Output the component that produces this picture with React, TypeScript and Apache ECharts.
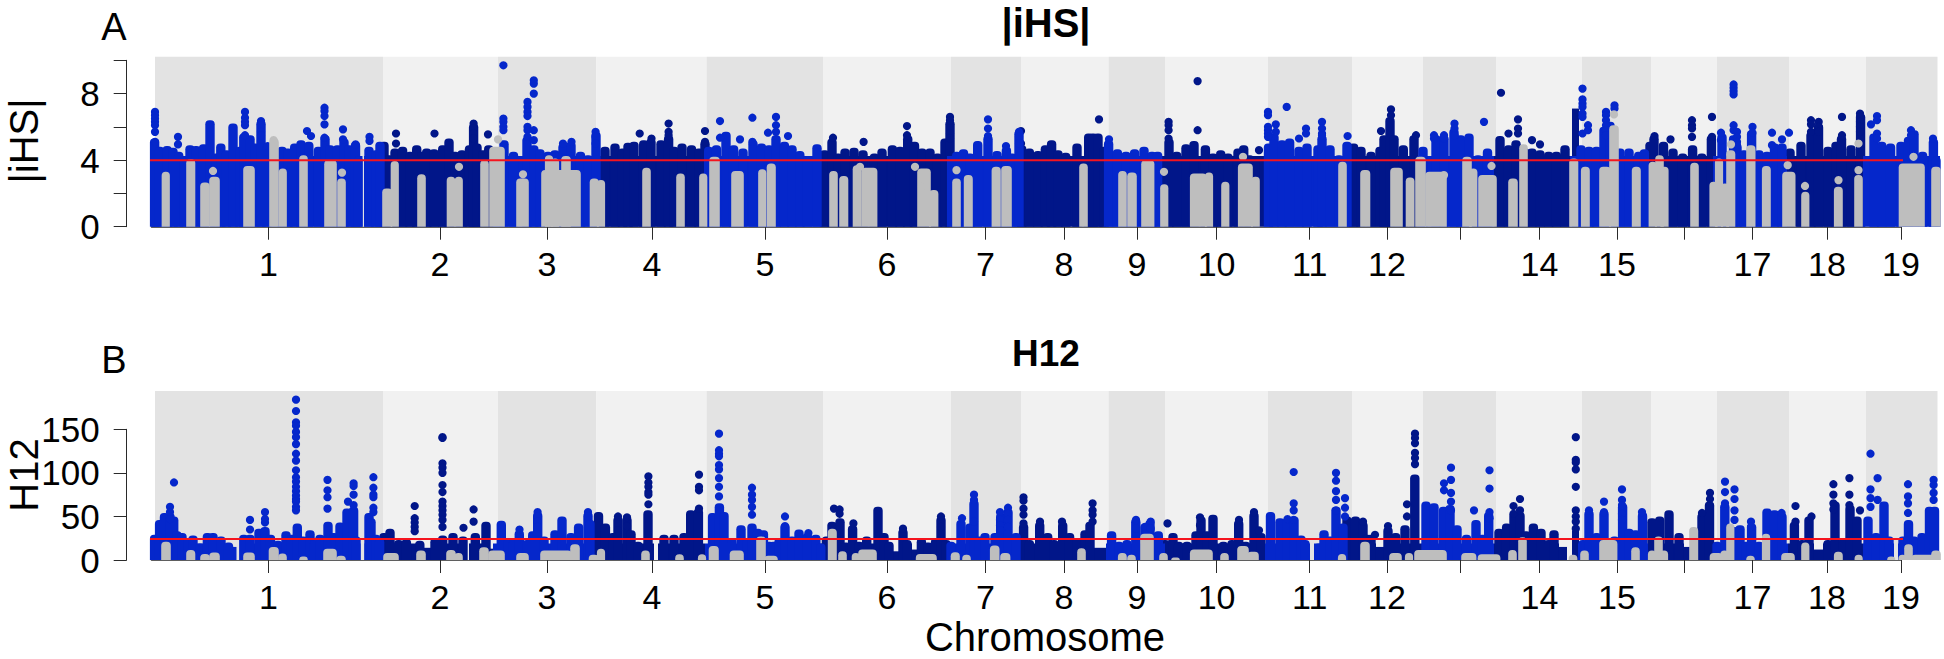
import React, { useEffect, useRef } from "react";
import * as echarts from "echarts";

// x values are cumulative genome positions on the plot's own linear scale.
const FONT = "'Liberation Sans', Arial, sans-serif";
const BLUE = "#0527cb";
const NAVY = "#011689";
const GRAY = "#bebebe";
const POINT_WIDTH = 8.2;
const STEM_WIDTH = 9.4;

const chromTicks = [268.5, 440, 547, 652, 765, 887, 985.5, 1064, 1137, 1216.6, 1309.7, 1387, 1460, 1539.5, 1617, 1684, 1752.4, 1827, 1901];
const chromLabels = ["1", "2", "3", "4", "5", "6", "7", "8", "9", "10", "11", "12", "", "14", "15", "", "17", "18", "19"];
const chromBounds = [155, 383, 498, 596.4, 706.5, 823, 951, 1021, 1108.5, 1165, 1268, 1352, 1423, 1496.5, 1582, 1651, 1717, 1789, 1866, 1937.5];

const iHSThreshold = 4;
const h12Threshold = 24.1;
const iHSBandTop = 10.22;
const h12BandTop = 194;

// solid mass under the envelope: [from, to, height]
const iHSBlueBase = [[151.5,362.5,4.25],[364,381,4.25],[493,594,4.25],[705,821,4.25],[947,1017,4.25],[1106,1162,4.25],[1264,1347,4.25],[1417,1494,4.25],[1570,1649,4.25],[1713,1787,4.25],[1863,1940,4.25]];
const iHSNavyBase = [[381,494,4.25],[594,705,4.25],[821,947,4.25],[1017,1106,4.25],[1162,1264,4.25],[1347,1417,4.25],[1494,1570,4.25],[1649,1713,4.25],[1787,1863,4.25],[1572,1579,7.1]];
// envelope of the point mass: [position, top]
const iHSBlueTops = [
  [154.6,5.3],[159.6,4.8],[167.2,4.85],[173,4.75],[178.7,4.5],[184.4,4.2],[190,4.9],[196,4.85],[203.6,4.95],[210,6.4],[216,4.4],[220.8,5.0],[226.5,4.6],[233,6.2],[240,4.8],[243.8,5.6],[250,5.5],[255,5.0],[261,6.4],[266.7,4.9],
  [282,4.8],[287.8,4.7],[294.7,5.0],[301,5.2],[308.8,5.1],[318.4,4.8],[325,5.5],[330,4.9],[337.5,4.9],[344,5.3],[349,4.9],[355.5,5.1],[358,4.2],[369,4.8],[375.8,4.6],[380,5.1],
  [498,4.6],[504,5.2],[513.5,4.5],[527,5.4],[533.8,4.9],[540,4.65],[548,4.5],[555,4.6],[563,5.0],[571,5.1],[580.5,4.5],[588,4.3],[596,5.7],
  [708.7,4.8],[716.4,4.9],[726,5.7],[733.6,4.9],[743,4.7],[753,5.2],[761.5,5.0],[769,4.9],[776,5.5],[784.4,5.1],[792,4.9],[799.8,4.55],[807.4,4.25],[817,4.95],
  [956.7,4.5],[963.5,4.65],[970,4.4],[977.7,5.15],[988,5.5],[997,4.55],[1006.4,4.8],[1012,4.4],[1019,5.8],
  [1108.6,5.2],[1117.4,4.65],[1126,4.5],[1134.6,4.65],[1144,4.8],[1152,4.5],[1157.6,4.5],
  [1268.5,5.0],[1274,5.6],[1282,5.2],[1289.6,5.3],[1299,4.8],[1307,5.0],[1318,4.9],[1322,5.5],[1330,4.9],[1339,4.3],[1347,5.1],
  [1423,4.8],[1436,5.5],[1444,5.5],[1454,5.9],[1460.7,5.5],[1469,5.6],[1478,4.3],[1487.5,4.7],
  [1581,4.9],[1589,4.8],[1596.6,4.8],[1604,6.0],[1610,6.3],[1620,4.7],[1629,4.7],[1638.7,4.5],[1644.4,4.65],
  [1722,5.6],[1733.6,5.5],[1737,5.0],[1744,4.6],[1751.6,5.8],[1759,4.6],[1767,4.5],[1774.5,5.0],[1782,5.0],
  [1874,5.6],[1881.7,5.1],[1890.5,5.0],[1901,5.1],[1908.5,5.4],[1914,5.8],[1922.6,4.5],[1933.4,5.3],[1936,4.2],
];
const iHSNavyTops = [
  [384,5.1],[389,4.3],[395,4.7],[402.6,4.8],[410,4.5],[416.7,4.9],[421.7,4.5],[426.7,4.7],[434,4.65],[442.7,4.9],[449,5.3],[455,4.5],[462,4.6],[469.5,4.9],[473.6,6.2],[477,5.0],[483,4.6],[488.7,4.9],
  [605,4.8],[615,5.0],[622.6,4.7],[628,5.05],[634,5.1],[643.7,5.2],[651,5.3],[661,5.2],[668.6,5.5],[674,4.8],[682,5.0],[691.5,4.9],[699,4.7],[705,5.2],
  [824.6,4.6],[832,5.3],[838,4.4],[845,4.7],[854,4.75],[863,4.6],[874.4,4.4],[882,4.7],[892.4,4.9],[900,4.8],[907.7,5.5],[914.5,5.1],[922,4.7],[930,4.7],[937.5,4.4],[945,5.3],[950,6.4],
  [1021.7,4.9],[1029.4,4.7],[1038,4.55],[1045.4,4.9],[1051.6,5.2],[1058,4.6],[1065.7,4.45],[1077,5.0],[1088.7,5.6],[1093,5.6],[1098,5.6],[1104,4.8],
  [1169,5.3],[1176.7,4.5],[1186,4.95],[1194,5.15],[1205.4,4.9],[1213,4.4],[1220.7,4.6],[1228,4.4],[1238,4.7],[1243.7,4.9],[1249.4,4.3],[1255,4.1],
  [1353.6,5.0],[1361,4.8],[1371,4.5],[1380,4.8],[1384,5.5],[1390,6.6],[1394,5.5],[1403.3,4.9],[1414,5.5],
  [1500,5.45],[1508.6,4.9],[1516,5.2],[1525,4.7],[1532,4.7],[1540,4.6],[1548.7,4.5],[1556.4,4.5],[1565,4.9],
  [1650,5.1],[1654,5.5],[1663.5,5.1],[1673,4.7],[1682.7,4.4],[1692.6,4.9],[1701.8,4.4],[1711.4,5.5],
  [1790,4.7],[1801,5.1],[1811,5.7],[1818.5,6.2],[1828,4.8],[1836,5.1],[1841.5,5.5],[1851,4.9],[1860.6,6.8],
];
const iHSGrayColumns = [
  [162.5,169,3.3],[187,194.5,4.05],[201,209,2.65],[210,219,3.0],[244,254,3.65],[270,278,5.3],[279.5,286,3.5],[300,307,4.3],[325,336,4.0],[338,345,2.9],
  [383,391.5,2.3],[391.5,398,3.95],[418,425,3.15],[447.5,454.5,3.0],[455.5,462,3.0],[481,488,4.0],[490,504,4.8],
  [517,528,2.9],[542,580,3.4],[546,552,4.3],[552,558,4.1],[562,570,4.25],[590.5,598,2.9],[598,604,2.8],
  [643,650,3.55],[677,684,3.2],[700,706.5,3.2],[710,719,4.2],[732,743,3.35],[759,765.5,3.45],[767.5,775,3.8],
  [830,837,3.35],[840,847.5,3.05],[853.5,860.6,3.7],[862,876.6,3.55],[918,930,3.5],[930,937.6,2.2],[953,960,2.9],[964.6,972,3.1],[992.4,1000,3.6],[1002,1011,3.65],
  [1080,1087,3.8],[1119,1126,3.35],[1128,1136,3.25],[1142,1153.6,4.0],[1161,1167.5,2.55],[1190.7,1206,3.2],[1206,1212,3.25],[1222,1228.6,2.7],[1238.7,1252,3.8],[1252,1259,3.0],
  [1339,1346,3.9],[1361,1369.5,3.4],[1391,1402,3.55],[1406.5,1413.7,2.95],[1416,1425,4.2],[1426,1446,3.3],[1463,1471,4.2],[1471,1475.6,3.5],[1479,1496,3.1],[1509,1517,2.9],[1520,1527,4.95],
  [1570,1577.5,4.1],[1581.7,1589,3.6],[1600,1610,3.6],[1610,1618,6.1],[1632.6,1640,3.6],[1649.4,1656,3.9],[1656,1663,4.3],[1663,1666,3.6],[1691,1698,3.85],
  [1711,1716,2.7],[1716,1722,4.1],[1722,1728,2.6],[1727,1734.5,4.6],[1747,1754.7,4.9],[1762.7,1770,3.65],[1783,1794.7,3.3],[1802,1808.6,2.1],[1834.7,1842,2.4],[1855,1862,3.1],
  [1899.5,1924,3.8],[1932,1940,3.6],
];
// [position, [heights of the points stacked at it]]
const iHSBlueDots = [
  [155,[6.9,6.7,6.5,6.3,6.1,5.7,5.1]],[178,[5.4,4.95]],[245,[6.9,6.55,6.3,6.1,5.5]],[261,[6.35,6.1,5.7,5.5]],[267.6,[4.85]],[307,[5.75]],[311,[5.45]],[324.5,[7.15,6.95,6.65,6.15,5.35]],[343,[5.85,5.25]],[355.6,[4.95]],[369.5,[5.4,5.15]],
  [503.4,[9.7,6.5,6.3,6.0,5.8]],[527.5,[7.5,7.2,6.9,6.65,6.0,5.8,5.4]],[533.8,[8.8,8.6,8.0,5.8,5.2]],[563,[5.0]],[571.5,[5.1]],[595.6,[5.7,5.4,5.0]],
  [720,[6.35,5.35]],[740,[5.25]],[752.4,[6.55,5.1]],[768,[5.65]],[776,[6.6,6.1,5.7]],[788,[5.45]],
  [988,[6.45,5.9,5.45,5.1]],[1006,[4.85]],[1019,[5.7,5.4,5.0]],[1109,[5.25]],
  [1268,[6.9,6.7,6.0,5.8,5.6,5.4]],[1275.8,[6.15,5.7]],[1286.7,[7.2]],[1299,[5.3]],[1306,[5.9,5.6]],[1322,[6.3,5.9,5.6,5.5]],[1347.6,[5.45]],
  [1434,[5.5,5.3]],[1444,[5.5,5.3]],[1454.5,[6.2,5.9,5.5]],[1484,[6.3]],
  [1582.5,[8.3,7.65,7.4,7.2,6.8,6.6,5.6]],[1588,[6.1,5.8]],[1606,[6.9,6.7,6.4,6.1,5.8,5.5]],[1614.5,[7.3,7.1]],
  [1721,[5.65,5.2]],[1733.6,[8.55,8.35,8.15,7.95,6.1,5.8]],[1737,[5.7,5.4,5.1,4.9]],[1752.5,[6.0,5.65]],[1772,[5.65,4.9]],[1782,[5.25]],[1789,[5.65]],
  [1871,[6.15]],[1877,[6.65,6.4,5.6,5.3]],[1911,[5.8,5.5]],[1933,[5.3]],
];
const iHSNavyDots = [
  [396,[5.6,5.0]],[434.5,[5.6]],[473.6,[6.2,5.9,5.6,5.3]],[488,[5.55]],[639.7,[5.6]],[651.5,[5.3]],[668.6,[6.2,5.7,5.5]],[705,[5.75,5.1]],
  [833,[5.35]],[863.6,[5.1]],[907,[6.05,5.5]],[950,[6.6,6.4,5.6,5.3]],[1021,[5.75,5.0]],[1099,[6.45]],
  [1168.6,[6.3,6.1,5.8,5.3]],[1197.6,[8.75,5.8]],[1259,[4.6]],[1391,[7.05,6.7]],[1381,[5.75]],[1416,[5.5]],
  [1501,[8.05]],[1518,[6.45,5.9,5.6]],[1508.5,[5.6]],[1532,[5.2]],[1540,[4.95]],
  [1654.5,[5.45]],[1670.5,[5.25]],[1692,[6.4,6.1,5.9,5.4]],[1712,[6.6,5.4]],
  [1811,[6.4,6.15,5.7]],[1818.7,[6.3,6.0,5.7]],[1842,[6.6,5.5]],[1860,[6.8,6.6,6.3,6.0,5.7]],
];
const iHSGrayDots = [
  [213,[3.35]],[273.6,[5.2]],[342,[3.25]],[459,[3.6]],[498,[5.25]],[523,[3.15]],[915,[3.6]],[922,[2.4]],[956.5,[3.4]],[860,[3.6]],[1164,[3.3]],[1243,[4.2]],
  [1444,[3.1]],[1491.5,[3.65]],[1614,[6.75]],[1805,[2.45]],[1838.5,[2.8]],[1858.5,[5.0,3.4]],[1787.7,[3.7]],[1913.5,[4.2]],[1731,[4.95]],
];

const h12BlueBase = [[151.5,156,11],[156,222,19],[222,236.5,15],[241,360.5,19],[364.5,381,19],[493,594,19],[705,821,19],[948,1019,19],[1106,1165,19],[1265,1310,19],[1314,1347,19],[1422,1494,19],[1578,1648,19],[1717,1788,19],[1863,1894,19],[1898,1937.5,19]];
const h12NavyBase = [[381,424,19],[424,431,14],[431,466,19],[469,488,19],[488,493,13],[594,654,19],[658,705,19],[821,893,19],[893,899,10],[899,912,19],[912,919,12],[919,948,19],[1019,1094,19],[1094,1106,14],[1165,1265,19],[1347,1376,19],[1376,1384,15],[1384,1422,19],[1494,1559,19],[1559,1567,15],[1572,1579,34],[1648,1684,19],[1684,1692,15],[1692,1717,19],[1788,1814,19],[1814,1823,12],[1823,1863,19]];
const h12BlueTops = [
  [154.6,29],[159.6,46],[164.5,54],[170,54],[173.7,50],[177,33],[182,31],[188,25],[193,28],[200,19],[207.4,31],[213,31],[221,27],[228.5,20],[243.8,29],[250,29],[259,36],[265,38],[270.5,29],[278,22],[286,33],[291.6,29],[297.3,42],[303,27],[310,34],[314.6,23],[320,29],[328,44],[333.7,31],[340,43],[347,59],[353.6,61],[356,27],[369,54],[371,48],[375.8,29],[379.6,25],
  [501.3,45],[507.8,24],[513.6,24],[519.3,34],[527,23],[532.7,33],[537.7,55],[544,27],[555,34],[562,50],[571,31],[578.6,42],[588,55],[590,46],
  [712.6,54],[719.4,65],[724,55],[731.7,25],[741,40],[747,24],[752,42],[757.6,36],[763.4,34],[769,21],[773.7,21],[779,25],[785,42],[792,27],[799,35],[807.4,31],[815.8,29],[820.8,19],
  [951,21],[961,46],[970,42],[974,69],[979.6,27],[985,31],[995,31],[1000.7,54],[1008,59],[1016,31],
  [1111.6,33],[1119,21],[1127,23],[1135.8,48],[1145,42],[1150,46],[1158.3,33],
  [1270.5,55],[1280,48],[1287,48],[1294,50],[1301,28],[1305,23],[1319,19],[1324,34],[1330,27],[1336,61],[1343,42],
  [1426,67],[1434,65],[1443.5,61],[1450,63],[1457,40],[1466.5,29],[1476,46],[1482.5,29],[1488.7,55],
  [1583,23],[1589,57],[1596.6,31],[1604,57],[1614.5,27],[1622.6,65],[1629,36],[1635.6,34],[1642.5,55],
  [1717,21],[1724.8,65],[1734,38],[1740,40],[1746,21],[1751.6,42],[1759,21],[1767,59],[1774.5,57],[1782,54],
  [1868,50],[1876,31],[1884,67],[1889,27],[1903,27],[1908.5,46],[1914,27],[1922,31],[1929.5,61],[1934.5,61],
];
const h12NavyTops = [
  [384,31],[390,36],[398.7,23],[406.4,24],[419.8,22],[435,25],[442.7,28],[453,31],[463,27],[475.3,31],[486,44],
  [598.5,55],[605.4,42],[613,31],[618,50],[627,50],[631,34],[638,21],[648,57],[664,29],[674,29],[684,31],[690.7,57],[698.4,59],
  [826.5,27],[832,44],[840,48],[845.7,20],[852.6,40],[859,21],[866.7,27],[878,61],[884,31],[889,21],[903,36],[907,23],[921.4,25],[928,20],[935.6,25],[941,50],[946,23],
  [1023.6,42],[1029.4,23],[1039.7,44],[1047.7,31],[1054,23],[1062.7,44],[1069.6,31],[1077,25],[1085,34],[1090,44],
  [1165,23],[1173,31],[1178.6,21],[1187,21],[1196,33],[1201,50],[1207,33],[1213,52],[1223.4,21],[1232,23],[1238.7,46],[1245.6,21],[1254,55],[1261,31],
  [1347,50],[1355.5,50],[1363,44],[1367,29],[1371,29],[1388,38],[1395.7,31],[1405,40],[1414.8,98],
  [1499,36],[1506.6,42],[1514,55],[1520,55],[1526,33],[1533.4,42],[1541,36],[1548.7,23],[1554,34],
  [1652,48],[1659.7,50],[1669,57],[1679,31],[1702,54],[1709.5,67],
  [1794.4,44],[1802,23],[1809,50],[1828,23],[1835,67],[1843.4,25],[1850,63],[1857,50],
];
const h12GrayColumns = [
  [162,170,21],[187,194.5,11.5],[201,209,7],[210,219,8.5],[244,254,8.5],[269.5,278,15],[279,286,7.5],[300,307,4],[324,336,13],[337,345,5],
  [384,398,8],[417,425,11],[447,455,11.5],[455,462,8],[480,488,14.5],[489,504,11],[517,528,8],[541,571,11],[571,579,18],[589.5,598,6],[598,604,13],[642,649,11],
  [676,683,6.5],[699,705,6.5],[709.5,718,16],[730.5,743,11],[757,765,27],[765,777,5],[828.6,836,36],[839,846,10],[852.6,859,8],[859,876,12],[916.6,936,7],[951.5,959,9],[963,970,6],[990.7,998.7,16.5],[1001,1009.6,8],
  [1078,1085,13.5],[1118.7,1126,8],[1128,1135,6],[1141,1153,30],[1160,1167,8],[1172,1179,3],[1190.7,1212,12],[1221,1228,8],[1238,1248,16],[1248,1258,9.5],
  [1339,1345,7],[1361,1369,21],[1390,1401,8],[1406,1412,8],[1415,1446,11.5],[1462,1475.6,8],[1478.5,1499.6,6.5],[1509,1516,11.5],[1519,1526,26],[1569.5,1576.6,6],[1581,1588,11],[1600,1616.6,23],[1632,1639,14.5],
  [1649,1655,11],[1655,1662,27],[1662,1666,11],[1690,1697.4,38],[1710.5,1722,8],[1722,1727,11],[1727,1733.6,42],[1747,1754,5],[1762.7,1769.4,30],[1782,1794,8],[1802,1808.6,20],[1834.7,1842,9.5],[1855.7,1861.6,6],[1888,1894.5,4],[1900,1905,6],[1905,1912,18],[1912,1934.5,6],[1932,1940,11],
];
const h12BlueDots = [
  [174,[89]],[170,[61,55,47]],[250,[46,35]],[265,[55,47,43]],[296,[184,171,158,154,147,141,133,122,114,103,95,90,84,79,74,70,67,61,57]],[327.5,[92,80,72,59]],[348,[67]],[353.6,[88,85,75,63]],[373.4,[95,83,75,72,60,55]],
  [519.5,[35]],[537.6,[55,50,44,38]],[588,[55,50]],
  [719,[145,126,122,119,109,104,94,84,73]],[752,[83,75,69,61,52]],[785,[50,39]],[808.4,[31]],
  [962,[48]],[974,[75,69,44]],[1000,[55,46,40,34]],[1008,[60,53,46,38]],
  [1136,[46,36,27]],[1145,[38,30]],[1150.7,[44,36]],[1287.5,[47]],[1293.7,[101,65,57,46]],
  [1336,[100,91,79,69,57]],[1345,[71,60,50]],[1444,[88,80]],[1451,[106,92,77,67,57]],[1474,[57]],[1489.5,[103,82,55,48]],
  [1589,[57]],[1604,[67,55]],[1622,[81,69,63,53,46]],[1642,[55]],
  [1725,[90,78,65]],[1734.5,[81,70,57,46]],[1751,[44,38]],[1781.6,[54]],
  [1870.5,[122,81,71,61]],[1877.6,[94,69]],[1908,[87,73,65,54]],[1933.6,[92,86,77,69]],
];
const h12NavyDots = [
  [414.7,[62,48,43,38,33]],[442.5,[141,140,111,106,100,86,78,67,62,57,52,46,38]],[463.5,[37]],[473.6,[58,44]],
  [618,[50,34]],[627,[49,39]],[648.4,[96,89,84,78,75,64]],[699,[98,84,80,59]],
  [834,[59]],[839.6,[58,53]],[853.4,[42]],[903,[36]],[941,[50,38]],
  [1023.5,[72,68,59,52,42]],[1040,[44]],[1062,[44]],[1092.6,[65,57,52,44]],[1167.5,[42]],[1200,[49,40]],[1239,[46]],[1254,[55]],[1259,[34]],
  [1363,[44]],[1375,[29]],[1388,[39]],[1407,[64,50]],[1415,[145,140,134,123,117,110]],
  [1513.5,[62,53]],[1520,[70,57]],[1575.8,[141,115,112,104,84,57,50,44,36]],[1702,[54]],[1710,[77,70,62]],
  [1795.5,[62,44]],[1811.5,[50]],[1833.4,[87,75,65,58]],[1849.4,[94,75,63]],[1860,[57]],
];

const bandRender = (top: number) => (params: any, api: any) => {
  const a = api.coord([api.value(0), top]);
  const b = api.coord([api.value(1), 0]);
  return {
    type: "rect",
    shape: { x: a[0], y: a[1], width: b[0] - a[0], height: b[1] - a[1] },
    style: { fill: api.value(2) ? "#e3e3e3" : "#f1f1f1" },
  };
};
const baseRender = (color: string) => (params: any, api: any) => {
  const a = api.coord([api.value(0), api.value(2)]);
  const b = api.coord([api.value(1), 0]);
  return {
    type: "rect",
    shape: { x: a[0], y: a[1], width: b[0] - a[0], height: b[1] - a[1] },
    style: { fill: color },
  };
};
const grayRender = (color: string) => (params: any, api: any) => {
  const a = api.coord([api.value(0), api.value(2)]);
  const b = api.coord([api.value(1), 0]);
  const w = Math.max(b[0] - a[0] + 1.6, POINT_WIDTH);
  const h = b[1] - a[1];
  const r = Math.min(4, h);
  return {
    type: "rect",
    shape: { x: (a[0] + b[0] - w) / 2, y: a[1], width: w, height: h, r: [r, r, 0, 0] },
    style: { fill: color },
  };
};
const stemRender = (color: string) => (params: any, api: any) => {
  const a = api.coord([api.value(0), api.value(1)]);
  const b = api.coord([api.value(0), 0]);
  return {
    type: "rect",
    shape: { x: a[0] - STEM_WIDTH / 2, y: a[1], width: STEM_WIDTH, height: b[1] - a[1], r: [4, 4, 0, 0] },
    style: { fill: color },
  };
};
const bands = chromBounds.slice(0, -1).map((s, i) => [s, chromBounds[i + 1], i % 2 === 0 ? 1 : 0]);
const expand = (stacks: any[]) => stacks.flatMap(([x, vs]: any) => vs.map((v: number) => [x, v]));

const panelSeries = (g: number, top: number, thr: number, p: any) => {
  const common = { xAxisIndex: g, yAxisIndex: g, silent: true, clip: false };
  const base = (name: string, data: number[][], color: string, z: number) => ({
    ...common, name, type: "custom", data, z, encode: { x: [0, 1], y: 2 }, renderItem: baseRender(color),
  });
  const gray = (name: string, data: number[][], color: string, z: number) => ({
    ...common, name, type: "custom", data, z, encode: { x: [0, 1], y: 2 }, renderItem: grayRender(color),
  });
  const stem = (name: string, data: number[][], color: string, z: number) => ({
    ...common, name, type: "custom", data, z, encode: { x: 0, y: 1 }, renderItem: stemRender(color),
  });
  const dot = (name: string, data: number[][], color: string, z: number) => ({
    ...common, name, type: "scatter", data, z, symbol: "circle", symbolSize: POINT_WIDTH, itemStyle: { color, opacity: 1 },
  });
  return [
    { ...common, name: "bands", type: "custom", data: bands, z: 1, encode: { x: [0, 1], y: 2 }, renderItem: bandRender(top) },
    base("navy mass", p.navyBase, NAVY, 2),
    stem("navy tops", p.navyTops, NAVY, 2),
    dot("navy points", expand(p.navyDots), NAVY, 3),
    base("blue mass", p.blueBase, BLUE, 4),
    stem("blue tops", p.blueTops, BLUE, 4),
    dot("blue points", expand(p.blueDots), BLUE, 5),
    gray("gray", p.grayCols, GRAY, 6),
    dot("gray points", expand(p.grayDots), GRAY, 7),
    { ...common, name: "threshold", type: "line", z: 8, showSymbol: false,
      lineStyle: { color: "#f5141e", width: 2 }, data: [[150, thr], [1942, thr]] },
  ];
};

const xAxisFor = (g: number) => ({
  type: "value", gridIndex: g, min: 151.5, max: 1901, position: "bottom",
  splitLine: { show: false },
  axisLine: { show: true, onZero: false, lineStyle: { color: "#2a2a2a", width: 1.5 } },
  axisTick: { show: true, customValues: chromTicks, length: 13, lineStyle: { color: "#2a2a2a", width: 1 } },
  axisLabel: {
    show: true, customValues: chromTicks, fontFamily: FONT, fontSize: 34, color: "#000", margin: 20,
    formatter: (v: number) => chromLabels[chromTicks.indexOf(v)] ?? "",
  },
});
const yAxisFor = (g: number, max: number, ticks: number[], labels: number[]) => ({
  type: "value", gridIndex: g, min: 0, max, position: "left", offset: 24.8,
  splitLine: { show: false },
  axisLine: { show: true, lineStyle: { color: "#2a2a2a", width: 1 } },
  axisTick: { show: true, customValues: ticks, length: 13, lineStyle: { color: "#2a2a2a", width: 1 } },
  axisLabel: { show: true, customValues: labels, fontFamily: FONT, fontSize: 35, color: "#000", margin: 27 },
});
const text = (t: string, x: number, y: number, size: number, weight = "normal", rotation = 0) => ({
  type: "text", x, y, rotation, z: 20,
  style: { text: t, fill: "#000", font: `${weight} ${size}px ${FONT}`, align: "center", verticalAlign: "middle" },
});

export default function App() {
  const ref = useRef<HTMLDivElement>(null);
  useEffect(() => {
    const chart = echarts.init(ref.current!, null, { renderer: "svg" });
    chart.setOption({
      animation: false,
      backgroundColor: "#fff",
      grid: [
        { left: 151.5, width: 1749.5, top: 60.3, height: 166.4 },
        { left: 151.5, width: 1749.5, top: 429.3, height: 130.7 },
      ],
      xAxis: [xAxisFor(0), xAxisFor(1)],
      yAxis: [yAxisFor(0, 10, [0, 2, 4, 6, 8, 10], [0, 4, 8]), yAxisFor(1, 150, [0, 50, 100, 150], [0, 50, 100, 150])],
      series: [
        ...panelSeries(0, iHSBandTop, iHSThreshold, { blueBase: iHSBlueBase, navyBase: iHSNavyBase, blueTops: iHSBlueTops, navyTops: iHSNavyTops, grayCols: iHSGrayColumns, blueDots: iHSBlueDots, navyDots: iHSNavyDots, grayDots: iHSGrayDots }),
        ...panelSeries(1, h12BandTop, h12Threshold, { blueBase: h12BlueBase, navyBase: h12NavyBase, blueTops: h12BlueTops, navyTops: h12NavyTops, grayCols: h12GrayColumns, blueDots: h12BlueDots, navyDots: h12NavyDots, grayDots: [] }),
      ],
      graphic: [
        text("A", 114, 27, 38),
        text("B", 114, 360, 38),
        text("|iHS|", 1046, 23, 40, "bold"),
        text("H12", 1046, 353, 37, "bold"),
        text("|iHS|", 24, 141, 40, "normal", Math.PI / 2),
        text("H12", 24, 475, 40, "normal", Math.PI / 2),
        text("Chromosome", 1045, 637, 40),
      ],
    });
    return () => chart.dispose();
  }, []);
  return <div ref={ref} style={{ position: "absolute", left: 0, top: 0, width: 1944, height: 659 }} />;
}
